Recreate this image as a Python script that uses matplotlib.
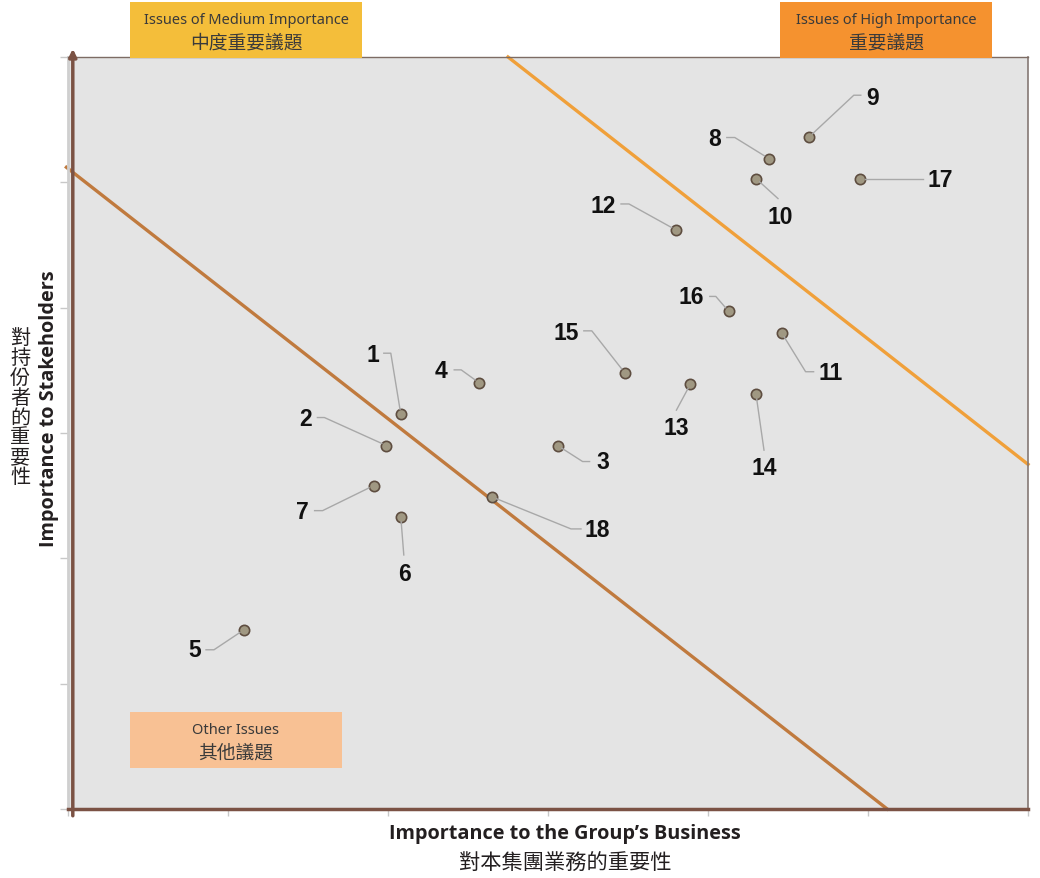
import matplotlib
matplotlib.use('Agg')
import matplotlib.pyplot as plt
from matplotlib.patches import Rectangle
from matplotlib.lines import Line2D
from matplotlib.transforms import IdentityTransform

plt.rcParams['font.family'] = ['Open Sans', 'Noto Sans CJK TC', 'DejaVu Sans']

# issue number, importance to business (x), importance to stakeholders (y)
issue_ids = [1, 2, 3, 4, 5, 6, 7, 8, 9, 10, 11, 12, 13, 14, 15, 16, 17, 18]
business = [2.08, 1.99, 3.06, 2.57, 1.10, 2.08, 1.91, 4.38, 4.63, 4.30,
            4.46, 3.80, 3.89, 4.30, 3.48, 4.13, 4.95, 2.65]
stakeholders = [3.15, 2.90, 2.90, 3.40, 1.43, 2.33, 2.58, 5.19, 5.36, 5.03,
                3.80, 4.62, 3.39, 3.31, 3.48, 3.97, 5.03, 2.49]

# threshold lines
medium_line_x = [-0.01, 5.12]
medium_line_y = [5.12, 0.0]
high_line_x = [2.75, 6.0]
high_line_y = [6.0, 2.75]

x_title = 'Importance to the Group\u2019s Business'
x_title_zh = '對本集團業務的重要性'
y_title = 'Importance to Stakeholders'
y_title_zh = '對持份者的重要性'

boxes = [
    ('Issues of Medium Importance', '中度重要議題', '#f4be3a'),
    ('Issues of High Importance', '重要議題', '#f5922f'),
    ('Other Issues', '其他議題', '#f8c194'),
]

# label placement, pixel offsets from the point (image y down):
# text position, then leader polyline
label_layout = {
    1: ((-28, -60), [(-10, -61), (-17, -61)]),
    2: ((-81, -27), [(-62, -28), (-69, -28)]),
    3: ((45, 16), [(25, 16), (32, 16)]),
    4: ((-38, -12), [(-18, -13), (-25, -13)]),
    5: ((-49, 20), [(-30, 20), (-38, 20)]),
    6: ((4, 57), [(3, 38)]),
    7: ((-71, 26), [(-51, 25), (-59, 25)]),
    8: ((-54, -20), [(-34, -21), (-42, -21)]),
    9: ((64, -40), [(45, -42), (52, -42)]),
    10: ((24, 38), [(22, 20)]),
    11: ((49, 40), [(24, 39), (32, 39)]),
    12: ((-73, -24), [(-47, -26), (-55, -26)]),
    13: ((-14, 43), [(-14, 26)]),
    14: ((8, 73), [(8, 56)]),
    15: ((-59, -40), [(-33, -42), (-41, -42)]),
    16: ((-38, -15), [(-13, -15), (-19, -15)]),
    17: ((80, 1), [(63, 0)]),
    18: ((105, 33), [(79, 32), (89, 32)]),
}

W, H = 1040, 879
fig = plt.figure(figsize=(W / 100, H / 100), dpi=100)
ax = fig.add_axes([68 / W, (H - 810) / H, 960 / W, 752 / H])
ax.set_facecolor('#e4e4e4')
ax.set_xlim(0, 6)
ax.set_ylim(0, 6)
ax.set_xticks(range(7))
ax.set_yticks(range(7))
ax.set_xticklabels([])
ax.set_yticklabels([])
ax.tick_params(axis='x', direction='out', length=5, width=1, color='#c8c8c8')
ax.tick_params(axis='y', direction='out', length=6, width=1, color='#c8c8c8')

ax.spines['left'].set_color('#cfcfcf')
ax.spines['left'].set_linewidth(2)
ax.spines['bottom'].set_color('#7b5244')
ax.spines['bottom'].set_linewidth(2.5)
ax.spines['top'].set_color('#7d6c64')
ax.spines['top'].set_linewidth(1)
ax.spines['right'].set_color('#857874')
ax.spines['right'].set_linewidth(1.2)

# brown vertical axis with arrow
ax.annotate('', xy=(0.005, 1.011), xytext=(0.005, -0.009), xycoords='axes fraction',
            arrowprops=dict(arrowstyle='-|>,head_length=0.45,head_width=0.22',
                            color='#7b5244', lw=2.5, shrinkA=0, shrinkB=0))

ax.plot(medium_line_x, medium_line_y, color='#c07a3e', lw=2.4, clip_on=False, zorder=2)
ax.plot(high_line_x, high_line_y, color='#f0a03a', lw=2.4, clip_on=False, zorder=2)

ax.scatter(business, stakeholders, s=55, color='#a09882', edgecolor='#5e4d40',
           linewidth=1.2, zorder=5)

# leader lines and labels, drawn in pixel coordinates
for i, x, y in zip(issue_ids, business, stakeholders):
    px, py = ax.transData.transform((x, y))
    (tx, ty), leader = label_layout[i]
    pts = [(px, py)] + [(px + dx, py - dy) for dx, dy in leader]
    # start the leader at the marker edge
    (x0, y0), (x1, y1) = pts[0], pts[1]
    d = ((x1 - x0) ** 2 + (y1 - y0) ** 2) ** 0.5
    pts[0] = (x0 + (x1 - x0) * 5 / d, y0 + (y1 - y0) * 5 / d)
    fig.add_artist(Line2D([p[0] for p in pts], [p[1] for p in pts],
                          transform=IdentityTransform(), color='#a8a8a8', lw=1))
    fig.text(px + tx, py - ty, str(i), transform=IdentityTransform(),
             ha='center', va='center', fontsize=16.5, fontweight='bold',
             family='Liberation Sans', color='#111111')

# category boxes (pixel coords, image y down)
box_pos = [(130, 3, 232, 56), (780, 3, 212, 56), (130, 713, 212, 56)]
for (en, zh, color), (bx, by, bw, bh) in zip(boxes, box_pos):
    fig.add_artist(Rectangle((bx / W, 1 - (by + bh) / H), bw / W, bh / H,
                             transform=fig.transFigure, facecolor=color,
                             edgecolor='none', zorder=3))
    cx = (bx + bw / 2) / W
    fig.text(cx, 1 - (by + 18) / H, en, ha='center', va='center', fontsize=10.5,
             family=['Noto Sans'], color='#3a3a3a', zorder=4)
    fig.text(cx, 1 - (by + 40) / H, zh, ha='center', va='center', fontsize=13.5,
             family=['Noto Sans CJK TC'], color='#3a3a3a', zorder=4)

# axis titles
fig.text(565 / W, 1 - 834 / H, x_title, ha='center', va='center', fontsize=14.3,
         fontweight='bold', color='#231f20')
fig.text(565 / W, 1 - 864 / H, x_title_zh, ha='center', va='center', fontsize=15.3,
         family=['Noto Sans CJK TC'], color='#231f20')
fig.text(49 / W, 1 - 409 / H, y_title, ha='center', va='center', fontsize=14.3,
         fontweight='bold', rotation=90, color='#231f20')
fig.text(20 / W, 1 - 408 / H, '\n'.join(y_title_zh), ha='center', va='center',
         fontsize=14.5, linespacing=0.92, family=['Noto Sans CJK TC'], color='#231f20')

fig.savefig('out.png', dpi=100)
